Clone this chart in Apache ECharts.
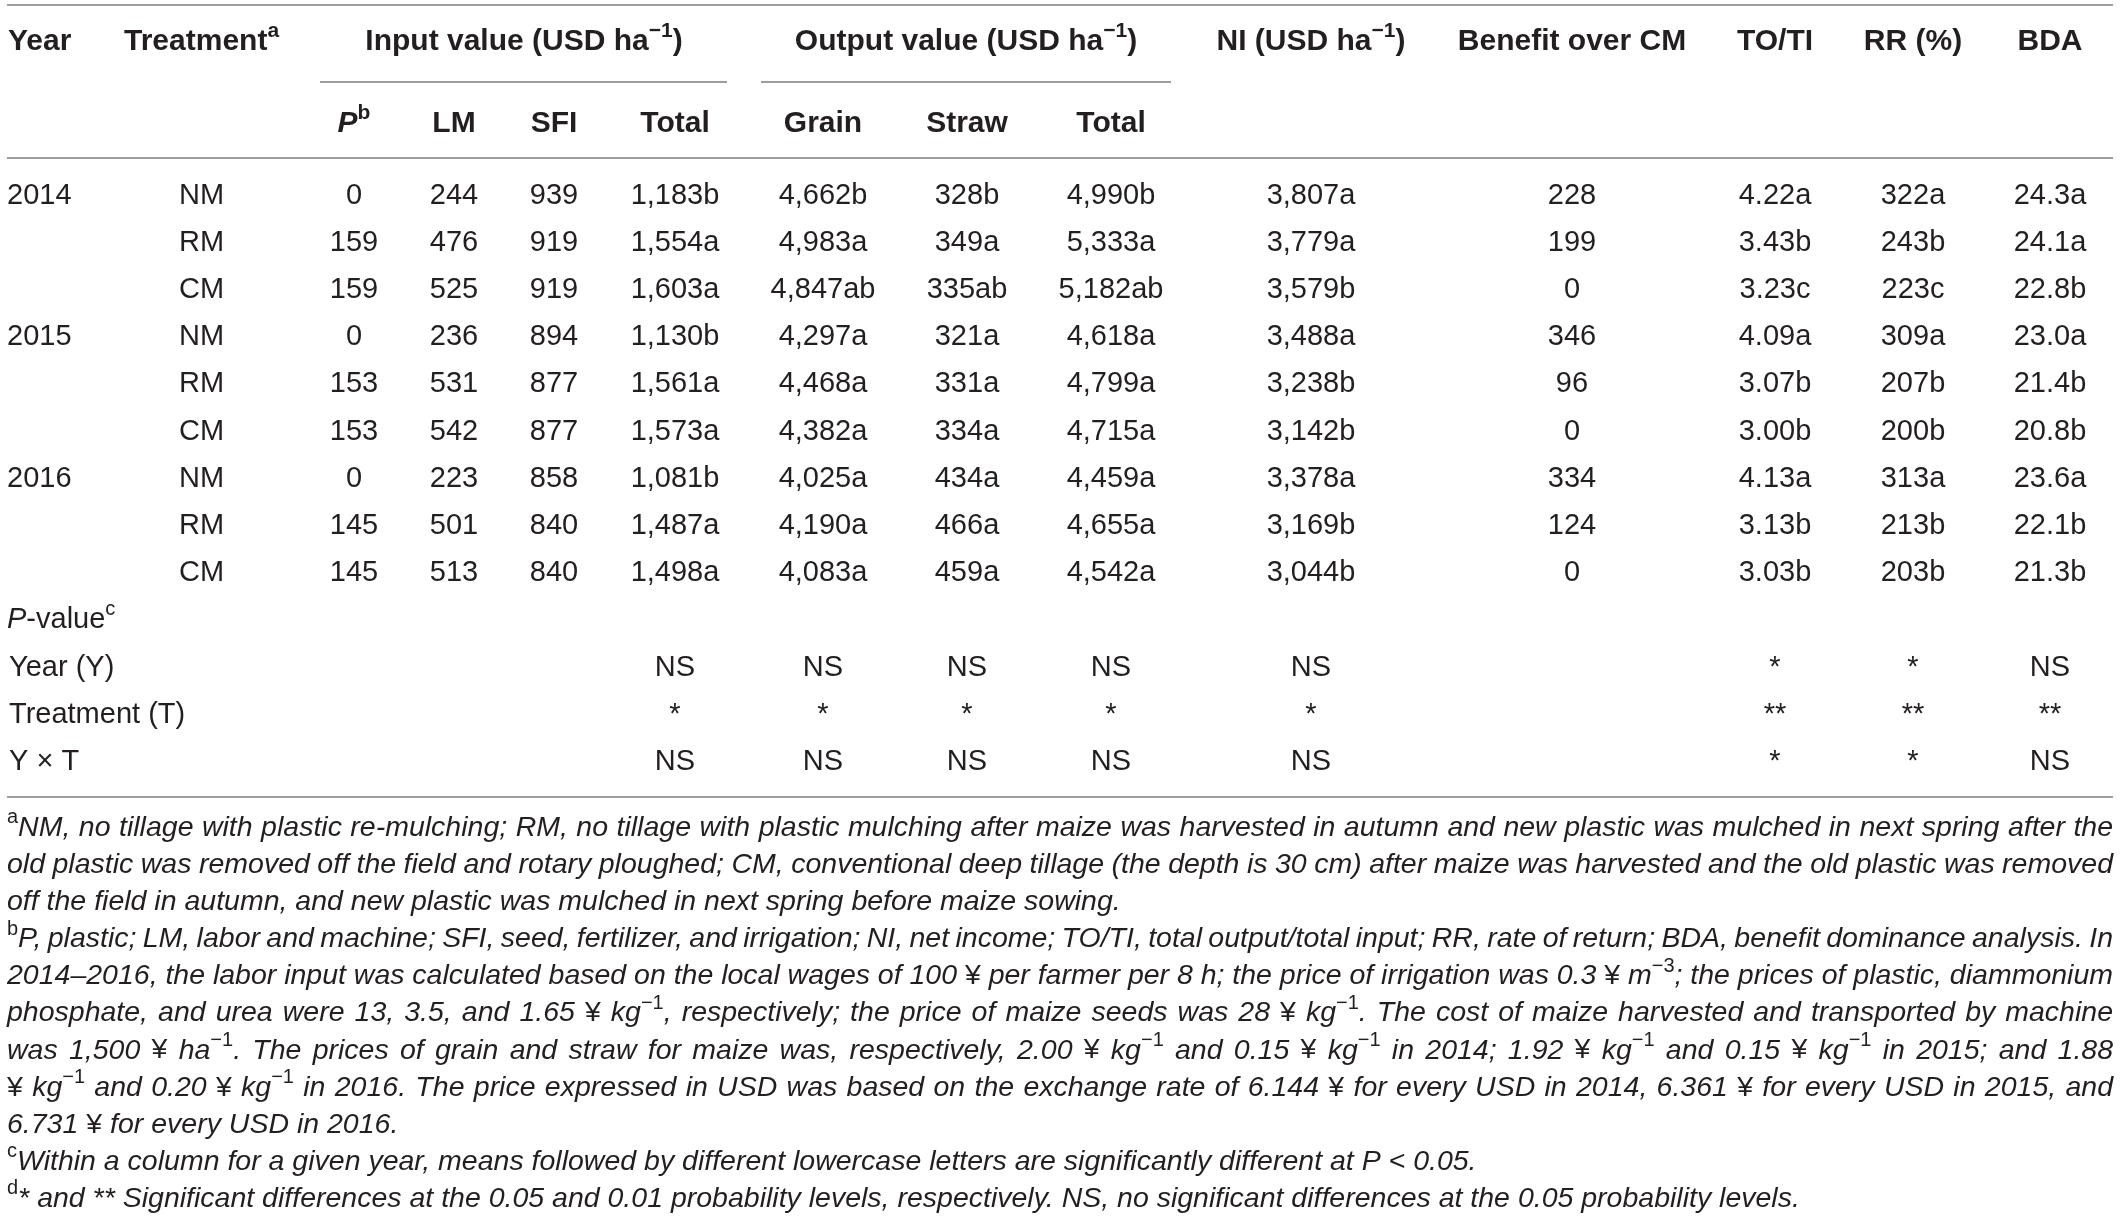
<!DOCTYPE html>
<html><head><meta charset="utf-8">
<script src="https://cdn.jsdelivr.net/npm/echarts@6/dist/echarts.min.js"></script>
<style>html,body{margin:0;padding:0;background:#fff}#c{width:2120px;height:1221px}</style>
</head><body><div id="c"></div>
<script>
// ---------- DATA ----------
const groupHeaders = ['Year', 'Treatment^{a}', 'Input value (USD ha^{−1})', 'Output value (USD ha^{−1})', 'NI (USD ha^{−1})', 'Benefit over CM', 'TO/TI', 'RR (%)', 'BDA'];
const subHeaders = ['/{P}^{b}', 'LM', 'SFI', 'Total', 'Grain', 'Straw', 'Total'];
const years = ['2014', '', '', '2015', '', '', '2016', '', ''];
const treatments = ['NM', 'RM', 'CM', 'NM', 'RM', 'CM', 'NM', 'RM', 'CM'];
const inputP = ['0', '159', '159', '0', '153', '153', '0', '145', '145'];
const inputLM = ['244', '476', '525', '236', '531', '542', '223', '501', '513'];
const inputSFI = ['939', '919', '919', '894', '877', '877', '858', '840', '840'];
const inputTotal = ['1,183b', '1,554a', '1,603a', '1,130b', '1,561a', '1,573a', '1,081b', '1,487a', '1,498a'];
const outputGrain = ['4,662b', '4,983a', '4,847ab', '4,297a', '4,468a', '4,382a', '4,025a', '4,190a', '4,083a'];
const outputStraw = ['328b', '349a', '335ab', '321a', '331a', '334a', '434a', '466a', '459a'];
const outputTotal = ['4,990b', '5,333a', '5,182ab', '4,618a', '4,799a', '4,715a', '4,459a', '4,655a', '4,542a'];
const netIncome = ['3,807a', '3,779a', '3,579b', '3,488a', '3,238b', '3,142b', '3,378a', '3,169b', '3,044b'];
const benefitOverCM = ['228', '199', '0', '346', '96', '0', '334', '124', '0'];
const toTi = ['4.22a', '3.43b', '3.23c', '4.09a', '3.07b', '3.00b', '4.13a', '3.13b', '3.03b'];
const rateOfReturn = ['322a', '243b', '223c', '309a', '207b', '200b', '313a', '213b', '203b'];
const bda = ['24.3a', '24.1a', '22.8b', '23.0a', '21.4b', '20.8b', '23.6a', '22.1b', '21.3b'];
const pValueTitle = '/{P}-value^{c}';
const pLabels = ['Year (Y)', 'Treatment (T)', 'Y × T'];
const pInputTotal = ['NS', '*', 'NS'];
const pGrain = ['NS', '*', 'NS'];
const pStraw = ['NS', '*', 'NS'];
const pOutputTotal = ['NS', '*', 'NS'];
const pNI = ['NS', '*', 'NS'];
const pBenefit = ['', '', ''];
const pToTi = ['*', '**', '*'];
const pRR = ['*', '**', '*'];
const pBDA = ['NS', '**', 'NS'];
const footnoteA = [
  '^{a}NM, no tillage with plastic re-mulching; RM, no tillage with plastic mulching after maize was harvested in autumn and new plastic was mulched in next spring after the',
  'old plastic was removed off the field and rotary ploughed; CM, conventional deep tillage (the depth is 30 cm) after maize was harvested and the old plastic was removed',
  'off the field in autumn, and new plastic was mulched in next spring before maize sowing.'
];
const footnoteB = [
  '^{b}P, plastic; LM, labor and machine; SFI, seed, fertilizer, and irrigation; NI, net income; TO/TI, total output/total input; RR, rate of return; BDA, benefit dominance analysis. In',
  '2014–2016, the labor input was calculated based on the local wages of 100 ~{¥} per farmer per 8 h; the price of irrigation was 0.3 ~{¥} m^{−3}; the prices of plastic, diammonium',
  'phosphate, and urea were 13, 3.5, and 1.65 ~{¥} kg^{−1}, respectively; the price of maize seeds was 28 ~{¥} kg^{−1}. The cost of maize harvested and transported by machine',
  'was 1,500 ~{¥} ha^{−1}. The prices of grain and straw for maize was, respectively, 2.00 ~{¥} kg^{−1} and 0.15 ~{¥} kg^{−1} in 2014; 1.92 ~{¥} kg^{−1} and 0.15 ~{¥} kg^{−1} in 2015; and 1.88',
  '~{¥} kg^{−1} and 0.20 ~{¥} kg^{−1} in 2016. The price expressed in USD was based on the exchange rate of 6.144 ~{¥} for every USD in 2014, 6.361 ~{¥} for every USD in 2015, and',
  '6.731 ~{¥} for every USD in 2016.'
];
const footnoteC = ['^{c}Within a column for a given year, means followed by different lowercase letters are significantly different at P < 0.05.'];
const footnoteD = ['^{d}* and ** Significant differences at the 0.05 and 0.01 probability levels, respectively. NS, no significant differences at the 0.05 probability levels.'];

// ---------- LAYOUT / STYLE ----------
const FAMILY = "'Liberation Sans', Arial, Helvetica, sans-serif";
const TEXT = '#231f20';
const RULE = '#7d7d7d';
const L = 7, R = 2113;
const headerY = 42, subY = 124, row0 = 195.5, rowStep = 47.2;
const groupPos = [{x: 8, a: 'left'}, {x: 124, a: 'left'}, {x: 524, a: 'center'}, {x: 966, a: 'center'}, {x: 1311, a: 'center'}, {x: 1572, a: 'center'}, {x: 1775, a: 'center'}, {x: 1913, a: 'center'}, {x: 2050, a: 'center'}];
const valueCols = [354, 454, 554, 675, 823, 967, 1111, 1311, 1572, 1775, 1913, 2050];
const HEAD = {size: 30, bold: true, italic: false};
const BODY = {size: 29, bold: false, italic: false};
const NOTE = {size: 28.5, bold: false, italic: true};

const mctx = document.createElement('canvas').getContext('2d');
function fontStr(st) { return (st.italic ? 'italic ' : 'normal ') + (st.bold ? 'bold ' : 'normal ') + st.size + 'px ' + FAMILY; }
function measure(t, st) { mctx.font = fontStr(st); return mctx.measureText(t).width; }
function parse(str) {
  const out = []; const re = /(\^\{[^}]*\}|\/\{[^}]*\}|~\{[^}]*\})/g; let last = 0, m;
  while ((m = re.exec(str))) {
    if (m.index > last) out.push({t: str.slice(last, m.index)});
    const k = m[0][0], t = m[0].slice(2, -1);
    out.push(k === '^' ? {t, sup: true} : k === '/' ? {t, ital: true} : {t, up: true});
    last = re.lastIndex;
  }
  if (last < str.length) out.push({t: str.slice(last)});
  return out;
}
function segStyle(s, base) {
  return {
    size: s.sup ? Math.round(base.size * 0.7) : base.size,
    bold: base.bold,
    italic: (s.sup || s.up) ? false : (s.ital ? true : base.italic),
    dy: s.sup ? -base.size * 0.36 : 0
  };
}
function richWidth(str, base) { return parse(str).reduce((w, s) => w + measure(s.t, segStyle(s, base)), 0); }
const els = [];
function addRich(str, x, y, align, base) {
  if (!str) return;
  const w = richWidth(str, base);
  let cx = align === 'center' ? x - w / 2 : align === 'right' ? x - w : x;
  parse(str).forEach(s => {
    const st = segStyle(s, base);
    els.push({type: 'text', silent: true, style: {text: s.t, x: cx, y: y + st.dy, font: fontStr(st), fill: TEXT, textAlign: 'left', textVerticalAlign: 'middle'}});
    cx += measure(s.t, st);
  });
}
function addRule(x1, x2, y) {
  els.push({type: 'line', silent: true, shape: {x1, y1: y, x2, y2: y}, style: {stroke: RULE, lineWidth: 1.6}});
}

// rules
addRule(L, R, 5);
addRule(320, 727, 82);
addRule(761, 1171, 82);
addRule(L, R, 158);
addRule(L, R, 797);

// headers
groupHeaders.forEach((h, i) => addRich(h, groupPos[i].x, headerY, groupPos[i].a, HEAD));
subHeaders.forEach((h, i) => addRich(h, valueCols[i], subY, 'center', HEAD));

// body
const bodyCols = [inputP, inputLM, inputSFI, inputTotal, outputGrain, outputStraw, outputTotal, netIncome, benefitOverCM, toTi, rateOfReturn, bda];
years.forEach((yv, r) => {
  const y = row0 + r * rowStep;
  addRich(yv, 7, y, 'left', BODY);
  addRich(treatments[r], 179, y, 'left', BODY);
  bodyCols.forEach((col, c) => addRich(col[r], valueCols[c], y, 'center', BODY));
});
const pRowStart = years.length;
addRich(pValueTitle, 7, row0 + pRowStart * rowStep, 'left', BODY);
const pCols = [null, null, null, pInputTotal, pGrain, pStraw, pOutputTotal, pNI, pBenefit, pToTi, pRR, pBDA];
pLabels.forEach((lab, r) => {
  const y = row0 + (pRowStart + 1 + r) * rowStep;
  addRich(lab, 9, y, 'left', BODY);
  pCols.forEach((col, c) => { if (col) addRich(col[r], valueCols[c], y, 'center', BODY); });
});

// footnotes
const noteY0 = 828, noteStep = 37.1;
let li = 0;
[footnoteA, footnoteB, footnoteC, footnoteD].forEach(par => {
  par.forEach((line, k) => {
    const y = noteY0 + li * noteStep;
    const justify = k < par.length - 1;
    if (!justify) { addRich(line, L, y, 'left', NOTE); }
    else {
      const words = line.split(' ');
      const ws = words.map(w => richWidth(w, NOTE));
      const total = ws.reduce((a, b) => a + b, 0);
      const gap = (R - L - total) / (words.length - 1);
      let x = L;
      words.forEach((w, i) => { addRich(w, x, y, 'left', NOTE); x += ws[i] + gap; });
    }
    li++;
  });
});

const chart = echarts.init(document.getElementById('c'), null, {renderer: 'canvas'});
chart.setOption({animation: false, backgroundColor: '#ffffff', graphic: {elements: els}});
</script>
</body></html>
